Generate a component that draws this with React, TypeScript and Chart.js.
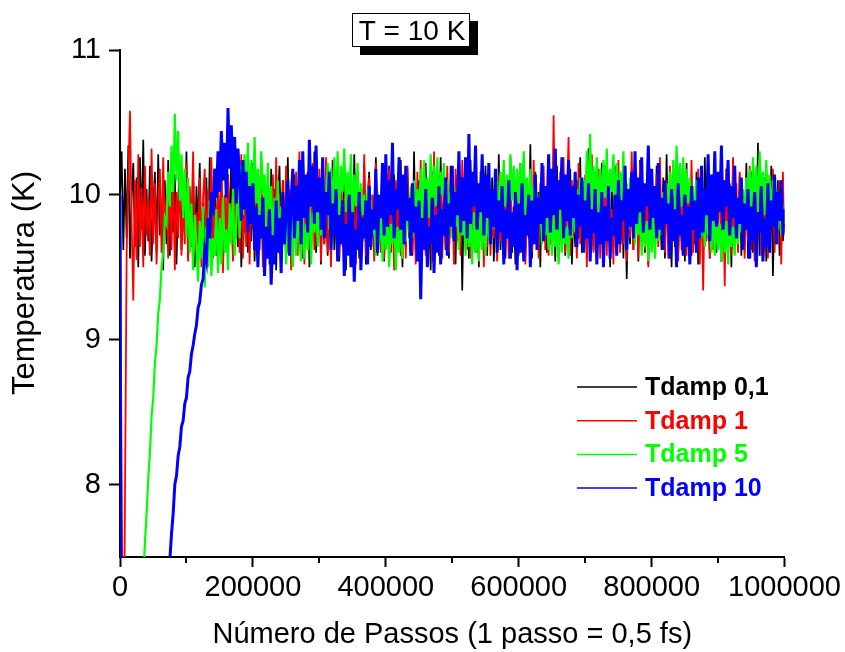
import React, { useEffect, useRef } from "react";
import { Chart, registerables } from "chart.js";

Chart.register(...registerables);

// ---- Data: temperature sampled every STEP simulation steps ----
const STEP = 2500;
const X_TICKS = [0, 200000, 400000, 600000, 800000, 1000000];
const X_MINOR_TICKS = [100000, 300000, 500000, 700000, 900000];
const Y_TICKS = [8, 9, 10, 11];
const SERIES_LABELS = ["Tdamp 0,1", "Tdamp 1", "Tdamp 5", "Tdamp 10"];
const SERIES_COLORS = ["#000000", "#ff0000", "#00ff00", "#0000ff"];
const TITLE_TEXT = "T = 10 K";
const X_TITLE = "Número de Passos (1 passo = 0,5 fs)";
const Y_TITLE = "Temperatura (K)";

const tdamp01 = [
  10.00, 10.30, 9.62, 10.18, 9.70, 10.34, 9.56, 9.98, 10.22, 9.64,
  10.12, 9.50, 10.26, 9.76, 10.38, 9.58, 10.04, 9.68, 10.20, 9.54,
  9.92, 10.16, 9.60, 10.28, 9.72, 9.86, 9.48, 10.10, 9.66, 10.24,
  9.58, 10.02, 9.74, 10.14, 9.52, 9.96, 10.20, 9.62, 10.08, 9.70,
  10.30, 9.56, 9.90, 9.64, 10.16, 9.50, 10.06, 9.78, 10.22, 9.60,
  9.94, 9.68, 10.12, 9.54, 10.26, 9.66, 9.88, 10.18, 9.58, 10.04,
  9.72, 10.20, 9.52, 9.98, 9.62, 10.14, 9.70, 10.32, 9.56, 9.92,
  10.10, 9.64, 10.24, 9.50, 9.86, 9.74, 10.16, 9.60, 10.02, 9.68,
  10.22, 9.54, 9.96, 10.12, 9.62, 10.28, 9.58, 9.90, 9.72, 10.08,
  9.52, 10.18, 9.66, 10.04, 9.48, 9.94, 10.20, 9.64, 10.10, 9.76,
  9.58, 10.26, 9.70, 9.88, 9.54, 10.14, 9.62, 10.06, 9.80, 10.22,
  9.56, 9.98, 9.68, 10.16, 9.50, 10.02, 9.74, 10.30, 9.60, 9.92,
  10.08, 9.52, 10.20, 9.66, 9.96, 9.58, 10.12, 9.70, 10.24, 9.62,
  9.86, 10.10, 9.54, 10.04, 9.72, 10.18, 9.48, 9.94, 9.64, 10.14,
  9.60, 10.28, 9.76, 9.90, 9.56, 10.06, 9.68, 10.22, 9.52, 9.98,
  10.16, 9.62, 10.00, 9.74, 10.26, 9.58, 9.88, 9.66, 10.12, 9.54,
  10.04, 9.70, 10.20, 9.60, 9.92, 10.14, 9.56, 10.08, 9.68, 10.24,
  9.50, 9.96, 9.64, 10.18, 9.72, 10.02, 9.58, 10.30, 9.62, 9.90,
  10.10, 9.54, 10.06, 9.76, 10.22, 9.60, 9.94, 9.48, 10.16, 9.66,
  9.86, 10.12, 9.58, 10.26, 9.70, 9.98, 9.62, 10.04, 9.56, 10.20,
  9.74, 9.92, 9.52, 10.14, 9.64, 10.08, 9.34, 10.00, 9.68, 10.18,
  9.56, 10.24, 9.72, 9.90, 9.60, 10.06, 9.50, 10.16, 9.66, 9.96,
  10.20, 9.58, 10.02, 9.70, 10.12, 9.54, 9.88, 9.64, 10.28, 9.62,
  9.94, 10.10, 9.56, 10.04, 9.74, 10.18, 9.60, 9.92, 9.52, 10.14,
  9.68, 10.22, 9.62, 9.98, 9.58, 10.08, 9.70, 10.35, 9.56, 9.90,
  10.16, 9.64, 10.02, 9.50, 10.12, 9.72, 9.94, 9.60, 10.24, 9.66,
  9.88, 10.06, 9.54, 10.20, 9.68, 9.96, 9.62, 10.14, 9.58, 10.04,
  9.76, 10.18, 9.52, 9.92, 9.64, 10.10, 9.70, 10.26, 9.60, 9.86,
  10.08, 9.56, 10.32, 9.66, 9.98, 9.62, 10.16, 9.54, 10.02, 9.72,
  10.22, 9.58, 9.90, 9.68, 10.12, 9.50, 10.06, 9.64, 10.20, 9.60,
  9.94, 9.70, 10.14, 9.56, 10.04, 9.42, 9.96, 9.66, 10.18, 9.62,
  9.88, 10.10, 9.54, 10.24, 9.72, 9.92, 9.60, 10.06, 9.52, 10.16,
  9.66, 10.00, 9.58, 10.20, 9.74, 9.90, 9.62, 10.12, 9.56, 10.28,
  9.70, 9.96, 9.50, 10.08, 9.64, 10.18, 9.60, 9.94, 9.68, 10.14,
  9.54, 10.22, 9.72, 9.88, 9.58, 10.06, 9.66, 10.16, 9.52, 9.98,
  10.10, 9.62, 10.26, 9.70, 9.92, 9.56, 10.04, 9.74, 10.20, 9.60,
  9.86, 10.12, 9.54, 9.98, 9.68, 10.18, 9.62, 10.08, 9.50, 10.24,
  9.64, 9.94, 9.70, 10.14, 9.58, 10.02, 9.66, 10.22, 9.56, 9.90,
  10.16, 9.60, 10.06, 9.72, 10.36, 9.58, 9.96, 9.64, 10.12, 9.54,
  10.00, 9.70, 10.20, 9.44, 9.92, 9.66, 10.10, 9.58, 10.04, 9.68,
  9.80,
];

const tdamp1 = [
  10.00, 8.00, 6.20, 7.90, 9.60, 10.12, 10.58, 9.80, 9.27, 10.10,
  9.55, 10.28, 9.64, 10.05, 9.50, 10.20, 9.72, 9.96, 9.58, 10.32,
  9.66, 10.08, 9.52, 9.90, 10.18, 9.60, 10.26, 9.74, 9.98, 9.56,
  10.14, 9.62, 10.24, 9.48, 10.02, 9.70, 10.16, 9.58, 9.94, 9.66,
  10.22, 9.54, 10.06, 9.76, 10.30, 9.60, 9.88, 9.64, 10.12, 9.50,
  9.98, 10.18, 9.58, 10.04, 9.68, 10.26, 9.56, 9.92, 9.72, 10.10,
  9.62, 10.20, 9.46, 10.00, 9.66, 10.14, 9.74, 9.90, 9.54, 10.24,
  9.70, 10.08, 9.60, 10.28, 9.56, 9.96, 9.64, 10.16, 9.52, 10.02,
  9.76, 10.22, 9.58, 9.94, 9.68, 10.12, 9.50, 10.06, 9.62, 10.18,
  9.56, 9.88, 10.14, 9.64, 10.26, 9.72, 9.98, 9.54, 10.10, 9.66,
  10.20, 9.60, 10.04, 9.48, 9.92, 9.70, 10.16, 9.58, 10.30, 9.64,
  9.96, 9.52, 10.12, 9.74, 10.06, 9.56, 10.22, 9.62, 9.90, 9.68,
  10.18, 9.54, 10.02, 9.66, 10.26, 9.60, 9.94, 9.50, 10.08, 9.72,
  9.88, 10.14, 9.58, 10.20, 9.64, 9.98, 9.56, 10.10, 9.70, 10.24,
  9.62, 9.96, 9.52, 10.16, 9.68, 10.04, 9.74, 10.28, 9.58, 9.92,
  10.12, 9.64, 10.00, 9.54, 10.22, 9.70, 9.90, 9.60, 10.14, 9.56,
  10.06, 9.72, 10.18, 9.62, 9.94, 9.48, 10.10, 9.66, 10.26, 9.58,
  9.98, 10.08, 9.56, 10.20, 9.70, 9.92, 9.60, 10.04, 9.52, 10.16,
  9.64, 10.24, 9.74, 9.88, 9.58, 10.12, 9.66, 10.02, 9.54, 10.30,
  9.62, 9.96, 9.70, 10.14, 9.56, 10.06, 9.64, 10.20, 9.60, 9.90,
  10.10, 9.52, 10.18, 9.68, 9.98, 9.58, 10.24, 9.72, 9.94, 9.62,
  10.12, 9.56, 10.04, 9.66, 10.28, 9.60, 9.90, 9.74, 10.16, 9.50,
  10.00, 9.64, 10.22, 9.58, 9.92, 9.70, 10.08, 9.54, 10.14, 9.68,
  9.96, 10.20, 9.62, 10.06, 9.56, 10.26, 9.66, 9.88, 9.72, 10.10,
  9.58, 10.02, 9.64, 10.18, 9.52, 9.94, 9.70, 10.12, 9.60, 10.24,
  9.66, 9.98, 9.56, 10.08, 9.74, 10.20, 9.62, 9.90, 9.58, 10.14,
  9.70, 10.55, 9.64, 10.04, 9.54, 10.16, 9.68, 10.26, 9.60, 9.96,
  10.40, 9.58, 10.10, 9.72, 9.92, 9.56, 10.22, 9.66, 10.02, 9.62,
  10.14, 9.50, 10.06, 9.70, 10.28, 9.60, 9.94, 9.74, 10.18, 9.56,
  9.98, 9.64, 10.20, 9.58, 10.08, 9.68, 9.90, 9.52, 10.12, 9.72,
  10.24, 9.60, 9.96, 9.66, 10.16, 9.54, 10.04, 9.70, 10.30, 9.62,
  9.92, 10.10, 9.56, 10.22, 9.74, 9.98, 9.62, 10.06, 9.50, 10.18,
  9.68, 10.02, 9.58, 10.14, 9.64, 10.26, 9.72, 9.90, 9.60, 10.10,
  9.56, 10.20, 9.66, 9.96, 9.70, 10.08, 9.54, 10.16, 9.62, 9.94,
  10.12, 9.58, 10.04, 9.74, 10.24, 9.60, 9.92, 9.66, 10.18, 9.52,
  10.06, 9.34, 10.00, 9.68, 10.14, 9.56, 9.96, 9.62, 10.22, 9.70,
  9.90, 10.10, 9.54, 10.02, 9.37, 10.18, 9.64, 9.94, 9.58, 10.26,
  9.66, 10.08, 9.60, 10.16, 9.72, 9.88, 9.56, 10.04, 9.68, 10.20,
  9.62, 9.98, 9.54, 10.12, 9.70, 10.24, 9.58, 9.92, 9.64, 10.14,
  9.56, 10.06, 9.72, 10.18, 9.60, 9.96, 9.66, 10.10, 9.52, 10.16,
  9.74,
];

const tdamp5 = [
  10.00, 4.70, 4.92, 5.12, 5.35, 5.55, 5.76, 5.98, 6.18, 6.40,
  6.60, 6.80, 7.00, 7.18, 7.35, 7.60, 7.80, 8.04, 8.22, 8.47,
  8.60, 8.84, 8.96, 9.18, 9.28, 9.50, 9.60, 9.84, 9.80, 10.16,
  9.92, 10.34, 10.02, 10.56, 10.10, 10.44, 9.96, 10.28, 9.84, 10.18,
  9.70, 10.12, 9.60, 9.94, 9.48, 9.86, 9.66, 9.40, 9.82, 9.56,
  9.92, 9.36, 9.78, 9.50, 9.96, 9.44, 9.70, 9.58, 9.90, 9.46,
  9.84, 9.52, 9.98, 9.60, 9.76, 9.48, 9.94, 9.66, 10.04, 9.58,
  9.82, 10.10, 9.70, 10.20, 9.86, 10.28, 9.92, 10.36, 9.80, 10.24,
  9.88, 10.40, 9.94, 10.18, 9.82, 10.30, 10.00, 10.14, 9.76, 10.22,
  9.84, 10.06, 9.66, 9.98, 9.74, 10.10, 9.60, 9.92, 9.70, 9.86,
  9.52, 9.96, 9.64, 9.88, 9.50, 10.00, 9.58, 9.84, 9.70, 9.54,
  9.92, 9.56, 9.80, 9.62, 10.02, 9.52, 9.88, 9.74, 9.96, 9.64,
  10.06, 9.72, 10.14, 9.80, 9.98, 10.22, 9.76, 10.18, 9.86, 10.26,
  9.90, 10.30, 9.84, 10.20, 10.02, 10.32, 9.88, 10.16, 9.94, 10.28,
  9.82, 10.14, 9.92, 10.22, 9.76, 10.08, 9.86, 10.00, 9.70, 10.04,
  9.64, 9.96, 9.72, 9.90, 9.58, 10.02, 9.66, 9.88, 9.54, 9.84,
  9.62, 9.86, 9.50, 9.80, 9.66, 9.92, 9.48, 9.78, 9.60, 9.84,
  9.56, 9.90, 9.68, 9.98, 9.74, 10.06, 9.70, 10.10, 9.82, 10.04,
  9.86, 10.18, 9.80, 10.24, 9.94, 10.12, 9.84, 10.28, 9.90, 10.20,
  9.92, 10.26, 9.86, 10.16, 10.00, 10.22, 9.82, 10.10, 9.76, 10.02,
  9.70, 10.06, 9.78, 9.94, 9.62, 9.98, 9.72, 9.86, 9.58, 9.92,
  9.64, 9.84, 9.52, 9.88, 9.60, 9.80, 9.54, 9.92, 9.62, 9.86,
  9.58, 9.94, 9.70, 10.02, 9.76, 9.96, 9.84, 10.10, 9.78, 10.16,
  9.88, 10.24, 9.92, 10.14, 9.84, 10.28, 9.96, 10.20, 9.86, 10.18,
  9.90, 10.22, 10.00, 10.30, 9.86, 10.12, 9.80, 10.18, 9.84, 10.06,
  9.74, 10.02, 9.80, 9.94, 9.66, 9.98, 9.72, 9.88, 9.62, 9.92,
  9.58, 9.86, 9.64, 9.80, 9.52, 9.90, 9.60, 9.84, 9.66, 9.78,
  9.56, 9.92, 9.70, 9.98, 9.74, 10.04, 9.80, 10.12, 9.86, 10.10,
  9.90, 10.30, 9.94, 10.42, 9.88, 10.20, 9.96, 10.26, 9.84, 10.18,
  9.92, 10.24, 9.98, 10.32, 9.86, 10.18, 10.02, 10.28, 9.90, 10.22,
  9.88, 10.16, 9.96, 10.30, 9.82, 10.08, 9.76, 10.12, 9.80, 10.00,
  9.66, 9.94, 9.72, 9.88, 9.58, 9.90, 9.64, 9.82, 9.54, 9.86,
  9.60, 9.84, 9.56, 9.92, 9.68, 9.98, 9.72, 10.02, 9.80, 10.08,
  9.84, 10.16, 9.90, 10.24, 9.86, 10.34, 9.96, 10.22, 9.92, 10.26,
  9.88, 10.18, 9.94, 10.12, 9.82, 10.06, 9.78, 10.10, 9.74, 9.98,
  9.70, 9.94, 9.64, 9.90, 9.72, 9.86, 9.60, 9.92, 9.58, 9.84,
  9.62, 9.80, 9.54, 9.88, 9.60, 9.82, 9.52, 9.86, 9.64, 9.78,
  9.58, 9.90, 9.66, 9.96, 9.74, 10.04, 9.80, 10.12, 9.86, 10.18,
  9.90, 10.26, 9.94, 10.20, 9.88, 10.30, 9.96, 10.16, 9.86, 10.24,
  9.92, 10.14, 9.84, 10.10, 9.80, 10.04, 9.76, 9.98, 9.72, 9.94,
  9.82,
];

const tdamp10 = [
  10.00, 4.60, 4.70, 4.82, 4.90, 5.02, 5.10, 5.22, 5.30, 5.42,
  5.50, 5.62, 5.70, 5.82, 5.90, 6.02, 6.10, 6.22, 6.30, 6.42,
  6.50, 6.62, 6.70, 6.82, 6.90, 7.02, 7.10, 7.22, 7.30, 7.42,
  7.48, 7.66, 7.80, 8.00, 8.06, 8.20, 8.26, 8.40, 8.44, 8.56,
  8.60, 8.74, 8.78, 8.90, 8.96, 9.04, 9.10, 9.22, 9.26, 9.38,
  9.42, 9.62, 9.55, 9.84, 9.70, 10.02, 9.86, 10.18, 9.98, 10.30,
  10.02, 10.44, 10.10, 10.36, 9.98, 10.60, 10.18, 10.48, 10.04, 10.40,
  9.94, 10.32, 10.12, 9.82, 10.24, 9.90, 10.16, 9.74, 10.06, 9.80,
  10.08, 9.62, 9.92, 9.50, 9.86, 9.70, 9.98, 9.44, 9.78, 9.56,
  9.90, 9.38, 9.72, 9.52, 9.96, 9.60, 9.84, 9.46, 10.02, 9.66,
  9.88, 10.10, 9.58, 9.96, 10.18, 9.70, 10.06, 9.82, 10.24, 9.66,
  10.30, 9.84, 10.14, 9.74, 10.38, 9.92, 10.20, 9.80, 10.34, 9.88,
  10.12, 9.76, 10.26, 9.70, 10.02, 9.86, 10.16, 9.62, 9.94, 9.72,
  10.04, 9.54, 9.86, 9.66, 9.96, 9.44, 9.80, 9.58, 10.00, 9.50,
  9.88, 9.40, 9.76, 9.62, 10.02, 9.48, 9.84, 9.70, 9.96, 9.52,
  10.06, 9.64, 9.90, 9.76, 10.18, 9.60, 10.00, 9.84, 10.22, 9.72,
  10.28, 9.78, 10.10, 9.86, 10.36, 9.70, 10.04, 9.90, 10.26, 9.76,
  10.14, 9.66, 10.20, 9.82, 9.98, 9.58, 10.08, 9.74, 9.92, 9.54,
  9.96, 9.28, 9.84, 9.62, 10.04, 9.50, 9.78, 9.66, 9.98, 9.46,
  9.86, 9.60, 10.06, 9.52, 9.90, 9.72, 10.12, 9.58, 9.94, 9.78,
  10.20, 9.68, 10.02, 9.86, 10.30, 9.74, 10.12, 9.82, 10.26, 9.70,
  10.42, 9.80, 10.16, 9.92, 10.34, 9.76, 10.08, 9.88, 10.28, 9.72,
  10.14, 9.84, 10.22, 9.66, 10.04, 9.78, 10.18, 9.60, 9.96, 9.74,
  10.06, 9.52, 9.90, 9.70, 10.10, 9.56, 9.88, 9.64, 10.02, 9.48,
  9.94, 9.60, 10.08, 9.54, 9.86, 9.72, 10.00, 9.50, 9.96, 9.66,
  10.14, 9.62, 9.98, 9.80, 10.22, 9.68, 10.06, 9.84, 10.28, 9.74,
  10.18, 9.86, 10.32, 9.76, 10.10, 9.90, 10.26, 9.70, 10.14, 9.82,
  10.24, 9.72, 10.06, 9.84, 10.16, 9.64, 10.00, 9.78, 10.12, 9.60,
  9.96, 9.70, 10.08, 9.54, 9.90, 9.74, 10.04, 9.52, 9.88, 9.66,
  10.02, 9.50, 9.92, 9.68, 10.06, 9.56, 9.84, 9.72, 10.00, 9.58,
  10.10, 9.66, 9.96, 9.82, 10.20, 9.62, 10.04, 9.78, 10.16, 9.70,
  10.30, 9.80, 10.12, 9.88, 10.26, 9.74, 10.08, 9.92, 10.34, 9.76,
  10.18, 9.84, 10.06, 9.70, 10.22, 9.76, 9.98, 9.62, 10.10, 9.80,
  9.94, 9.56, 10.04, 9.68, 9.90, 9.50, 10.08, 9.72, 9.86, 9.58,
  10.00, 9.64, 9.92, 9.52, 10.06, 9.76, 9.96, 9.60, 10.12, 9.70,
  10.20, 9.74, 10.04, 9.86, 10.28, 9.68, 10.14, 9.82, 10.30, 9.78,
  10.16, 9.88, 10.34, 9.76, 10.10, 9.92, 10.24, 9.72, 10.06, 9.84,
  10.20, 9.70, 9.98, 9.80, 10.12, 9.62, 9.94, 9.76, 10.04, 9.56,
  9.92, 9.68, 10.02, 9.50, 9.88, 9.74, 10.06, 9.54, 9.84, 9.64,
  10.08, 9.60, 9.96, 9.78, 10.14, 9.66, 10.02, 9.82, 10.10, 9.72,
  9.90,
];

const SERIES_VALUES = [tdamp01, tdamp1, tdamp5, tdamp10];
const SERIES_WIDTHS = [1.7, 1.8, 2.2, 3.0];

const FONT = "'Liberation Sans', Arial, Helvetica, sans-serif";

const overlayPlugin = {
  id: "overlay",
  afterDraw(chart: any) {
    const ctx: CanvasRenderingContext2D = chart.ctx;
    const xs = chart.scales.x;
    ctx.save();
    // minor ticks on the x axis
    ctx.strokeStyle = "#000";
    ctx.lineWidth = 2;
    const y0 = xs.top;
    X_MINOR_TICKS.forEach((v) => {
      const px = Math.round(xs.getPixelForValue(v));
      ctx.beginPath();
      ctx.moveTo(px, y0);
      ctx.lineTo(px, y0 + 6);
      ctx.stroke();
    });

    // y axis title
    ctx.save();
    ctx.translate(25, 283);
    ctx.rotate(-Math.PI / 2);
    ctx.fillStyle = "#000";
    ctx.font = `31px ${FONT}`;
    ctx.textAlign = "center";
    ctx.textBaseline = "middle";
    ctx.fillText(Y_TITLE, 0, 0);
    ctx.restore();

    // legend
    const legendX = 577;
    const legendY0 = 387;
    const legendGap = 33.7;
    ctx.font = `bold 25px ${FONT}`;
    ctx.textBaseline = "middle";
    ctx.textAlign = "left";
    chart.data.datasets.forEach((ds: any, i: number) => {
      const y = legendY0 + i * legendGap;
      ctx.strokeStyle = ds.borderColor;
      ctx.lineWidth = 1.5;
      ctx.beginPath();
      ctx.moveTo(legendX, y);
      ctx.lineTo(legendX + 60, y);
      ctx.stroke();
      ctx.fillStyle = ds.borderColor;
      ctx.fillText(ds.label, legendX + 68, y + 1);
    });

    // title box with shadow
    const bx = 352, by = 13, bw = 118, bh = 34, off = 8;
    ctx.fillStyle = "#000";
    ctx.fillRect(bx + off, by + off, bw, bh);
    ctx.fillStyle = "#fff";
    ctx.fillRect(bx, by, bw, bh);
    ctx.strokeStyle = "#000";
    ctx.lineWidth = 1;
    ctx.strokeRect(bx + 0.5, by + 0.5, bw - 1, bh - 1);
    ctx.fillStyle = "#000";
    ctx.font = `28px ${FONT}`;
    ctx.textAlign = "center";
    ctx.textBaseline = "alphabetic";
    ctx.fillText(TITLE_TEXT, bx + bw / 2 + 1, by + 27);
    ctx.restore();
  },
};

export default function App() {
  const canvasRef = useRef<HTMLCanvasElement | null>(null);

  useEffect(() => {
    const canvas = canvasRef.current;
    if (!canvas) return;
    const orders = [4, 3, 2, 1];
    const chart = new Chart(canvas, {
      type: "line",
      data: {
        datasets: SERIES_VALUES.map((vals, k) => ({
          label: SERIES_LABELS[k],
          data: vals.map((y, i) => ({ x: i * STEP, y })),
          borderColor: SERIES_COLORS[k],
          backgroundColor: SERIES_COLORS[k],
          borderWidth: SERIES_WIDTHS[k],
          pointRadius: 0,
          pointHoverRadius: 0,
          fill: false,
          tension: 0,
          order: orders[k],
        })),
      },
      options: {
        animation: false,
        responsive: false,
        events: [],
        layout: { padding: { top: 50, right: 59, left: 0, bottom: 0 } },
        plugins: {
          legend: { display: false },
          tooltip: { enabled: false },
          title: { display: false },
        },
        scales: {
          x: {
            type: "linear",
            min: 0,
            max: 1000000,
            afterBuildTicks: (s: any) => {
              s.ticks = X_TICKS.map((v) => ({ value: v }));
            },
            afterFit: (s: any) => {
              s.height = 95;
            },
            ticks: {
              autoSkip: false,
              maxRotation: 0,
              color: "#000",
              padding: 4,
              font: { family: FONT, size: 29 },
              callback: (v: any) => String(v),
            },
            grid: {
              drawOnChartArea: false,
              drawTicks: true,
              tickLength: 10,
              tickWidth: 2,
              tickColor: "#000",
            },
            border: { display: true, color: "#000", width: 2 },
            title: {
              display: true,
              text: X_TITLE,
              color: "#000",
              font: { family: FONT, size: 29 },
              padding: { top: 0, bottom: 0 },
            },
          },
          y: {
            type: "linear",
            min: 7.5,
            max: 11,
            afterBuildTicks: (s: any) => {
              s.ticks = Y_TICKS.map((v) => ({ value: v }));
            },
            afterFit: (s: any) => {
              s.width = 120;
            },
            ticks: {
              color: "#000",
              padding: 8,
              font: { family: FONT, size: 29 },
              callback: (v: any) => String(v),
            },
            grid: {
              drawOnChartArea: false,
              drawTicks: true,
              tickLength: 11,
              tickWidth: 2,
              tickColor: "#000",
            },
            border: { display: true, color: "#000", width: 2 },
            title: { display: false },
          },
        },
      },
      plugins: [overlayPlugin],
    } as any);
    return () => chart.destroy();
  }, []);

  return (
    <div style={{ position: "fixed", left: 0, top: 0, width: 845, height: 652, background: "#fff" }}>
      <canvas ref={canvasRef} width={845} height={652} style={{ display: "block" }} />
    </div>
  );
}
